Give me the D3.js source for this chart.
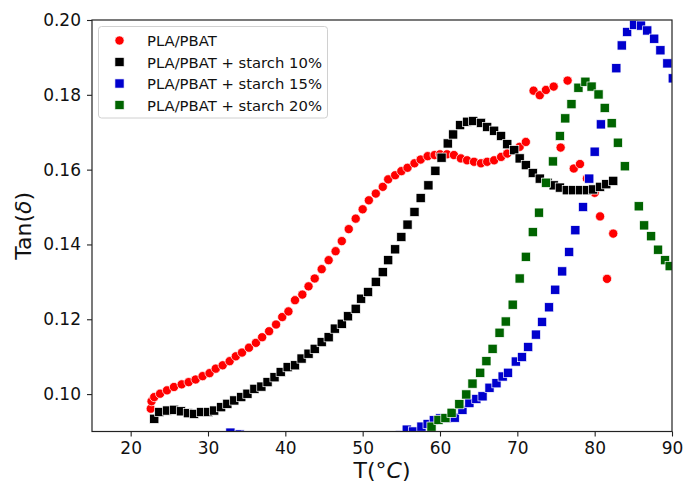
<!DOCTYPE html>
<html>
<head>
<meta charset="utf-8">
<script src="https://cdn.jsdelivr.net/npm/d3@7/dist/d3.min.js"></script>
<style>
  html, body { margin: 0; padding: 0; background: #fff; }
  svg { display: block; font-family: "DejaVu Sans", sans-serif; }
</style>
</head>
<body>
<svg id="chart" width="685" height="485"></svg>
<script>
// Loss factor tan(δ) vs temperature, [T (°C), tan δ]
const plaPbat = [
  [22.6,0.0961],[22.7,0.0981],[23.05,0.0992],[23.8,0.1001],[24.7,0.1010],[25.6,0.1019],
  [26.6,0.1026],[27.5,0.1032],[28.4,0.1039],[29.3,0.1048],[30.2,0.1056],[31.0,0.1068],
  [31.9,0.1077],[32.8,0.1088],[33.6,0.1101],[34.4,0.1111],[35.3,0.1124],[36.2,0.1137],
  [37.0,0.1152],[37.9,0.1168],[38.8,0.1186],[39.6,0.1206],[40.4,0.1221],[41.25,0.1251],
  [42.2,0.1266],[43.0,0.1288],[43.8,0.1309],[44.7,0.1334],[45.6,0.1358],[46.5,0.1382],
  [47.3,0.1409],[48.2,0.1441],[49.1,0.1469],[50.0,0.1494],[50.8,0.1518],[51.7,0.1536],
  [52.6,0.1554],[53.3,0.1574],[54.2,0.1585],[55.0,0.1596],[55.8,0.1605],[56.7,0.1617],
  [57.5,0.1627],[58.4,0.1636],[59.3,0.1639],[60.0,0.1641],[60.9,0.1641],[61.8,0.1639],
  [62.7,0.1630],[63.5,0.1625],[64.4,0.1621],[65.3,0.1617],[66.1,0.1621],[67.0,0.1625],
  [67.9,0.1634],[68.7,0.1643],[69.6,0.1652],[70.3,0.1661],[71.1,0.1674],[72.1,0.1811],
  [72.9,0.1799],[73.7,0.1813],[74.7,0.1822],[75.6,0.1659],[76.5,0.1838],[77.3,0.1603],
  [78.1,0.1615],[79.0,0.1576],[80.0,0.1538],[80.7,0.1475],[81.6,0.1308],[82.4,0.1429]
];
const starch10 = [
  [23.05,0.0934],[23.7,0.0952],[24.7,0.0956],[25.6,0.0958],[26.5,0.0954],[27.4,0.0949],
  [28.2,0.0947],[29.1,0.0952],[30.0,0.0952],[30.8,0.0956],[31.7,0.0965],[32.5,0.0974],
  [33.4,0.0983],[34.3,0.0992],[35.1,0.1001],[36.0,0.1014],[36.9,0.1020],[37.7,0.1032],
  [38.6,0.1045],[39.4,0.1059],[40.3,0.1072],[41.25,0.1077],[42.1,0.1095],[43.0,0.1108],
  [43.8,0.1121],[44.7,0.1139],[45.6,0.1152],[46.4,0.1175],[47.3,0.1188],[48.1,0.1208],
  [49.1,0.1228],[49.8,0.1255],[50.7,0.1273],[51.7,0.1300],[52.6,0.1326],[53.3,0.1358],
  [54.2,0.1387],[55.0,0.1420],[55.8,0.1453],[56.7,0.1487],[57.5,0.1524],[58.5,0.1558],
  [59.4,0.1597],[60.2,0.1632],[61.0,0.1670],[61.7,0.1694],[62.6,0.1719],[63.5,0.1728],
  [64.3,0.1730],[65.3,0.1725],[66.1,0.1714],[67.0,0.1704],[67.9,0.1690],[68.7,0.1668],
  [69.6,0.1652],[70.3,0.1630],[71.1,0.1612],[72.0,0.1591],[72.9,0.1576],[73.9,0.1565],
  [74.7,0.1558],[75.5,0.1552],[76.4,0.1545],[77.2,0.1545],[78.1,0.1545],[79.0,0.1545],
  [79.8,0.1547],[80.7,0.1554],[81.5,0.1561],[82.4,0.1570]
];
const starch15 = [
  [32.9,0.0897],[34.1,0.0892],[34.9,0.0889],
  [54.8,0.0890],[55.7,0.0905],[56.5,0.0900],[57.6,0.0913],[58.4,0.0920],[59.2,0.0930],
  [60.0,0.0935],[60.9,0.0935],[61.9,0.0937],[62.9,0.0958],[63.8,0.0976],[64.7,0.0987],
  [65.5,0.0994],[66.4,0.1017],[67.3,0.1029],[68.1,0.1047],[68.8,0.1057],[69.8,0.1087],
  [70.6,0.1099],[71.4,0.1126],[72.4,0.1159],[73.2,0.1193],[74.1,0.1232],[74.9,0.1279],
  [75.8,0.1328],[76.7,0.1380],[77.5,0.1438],[78.5,0.1500],[79.3,0.1576],[80.0,0.1648],
  [80.8,0.1721],[82.8,0.1871],[83.5,0.1932],[84.2,0.1968],[85.1,0.1987],[86.0,0.1985],
  [86.8,0.1972],[87.7,0.1950],[88.5,0.1919],[89.4,0.1884],[90.1,0.1844]
];
const starch20 = [
  [58.9,0.0913],[59.8,0.0931],[60.7,0.0936],[61.5,0.0950],[62.5,0.0973],[63.4,0.0999],
  [64.2,0.1028],[65.2,0.1057],[66.0,0.1088],[66.8,0.1121],[67.7,0.1164],[68.5,0.1194],
  [69.4,0.1239],[70.3,0.1309],[71.1,0.1367],[72.0,0.1433],[72.8,0.1485],[73.7,0.1565],
  [74.6,0.1622],[75.5,0.1690],[76.2,0.1737],[77.0,0.1775],[77.9,0.1819],[78.8,0.1835],
  [79.6,0.1822],[80.5,0.1801],[81.3,0.1765],[82.2,0.1724],[83.0,0.1672],[83.9,0.1609],
  [85.7,0.1502],[86.4,0.1451],[87.3,0.1422],[88.2,0.1386],[89.1,0.1358],[89.7,0.1342]
];

const seriesNames = ["PLA/PBAT", "PLA/PBAT + starch 10%", "PLA/PBAT + starch 15%", "PLA/PBAT + starch 20%"];
const seriesData = [plaPbat, starch10, starch15, starch20];
const seriesColors = ["#ff0000", "#000000", "#0000cd", "#006400"];
const seriesShapes = ["circle", "square", "square", "square"];

const xTicks = [20, 30, 40, 50, 60, 70, 80, 90];
const yTicks = [0.10, 0.12, 0.14, 0.16, 0.18, 0.20];
const xDomain = [15, 90];
const yDomain = [0.09, 0.20];

const svg = d3.select("#chart");
const plotLeft = 92, plotRight = 672, plotTop = 20, plotBottom = 431.5;

const x = d3.scaleLinear().domain(xDomain).range([plotLeft, plotRight]);
const y = d3.scaleLinear().domain(yDomain).range([plotBottom, plotTop]);

svg.append("defs").append("clipPath").attr("id", "plotClip")
  .append("rect").attr("x", plotLeft).attr("y", plotTop)
  .attr("width", plotRight - plotLeft).attr("height", plotBottom - plotTop);

const circleR = 4.6, squareS = 9.2;

function drawMarker(g, shape, color, cx, cy) {
  if (shape === "circle") {
    g.append("circle").attr("cx", cx).attr("cy", cy).attr("r", circleR)
      .attr("fill", color).attr("stroke", "#fff").attr("stroke-width", 0.7);
  } else {
    g.append("rect").attr("x", cx - squareS / 2).attr("y", cy - squareS / 2)
      .attr("width", squareS).attr("height", squareS)
      .attr("fill", color).attr("stroke", "#fff").attr("stroke-width", 0.7);
  }
}

// scatter marks
const plot = svg.append("g").attr("clip-path", "url(#plotClip)");
seriesData.forEach((data, i) => {
  const g = plot.append("g");
  if (seriesShapes[i] === "circle") {
    g.selectAll("circle").data(data).join("circle")
      .attr("cx", d => x(d[0])).attr("cy", d => y(d[1])).attr("r", circleR)
      .attr("fill", seriesColors[i]).attr("stroke", "#fff").attr("stroke-width", 0.7);
  } else {
    g.selectAll("rect").data(data).join("rect")
      .attr("x", d => x(d[0]) - squareS / 2).attr("y", d => y(d[1]) - squareS / 2)
      .attr("width", squareS).attr("height", squareS)
      .attr("fill", seriesColors[i]).attr("stroke", "#fff").attr("stroke-width", 0.7);
  }
});

// axes
const xAxis = svg.append("g").attr("transform", `translate(0,${plotBottom})`)
  .call(d3.axisBottom(x).tickValues(xTicks).tickFormat(d3.format("d")).tickSize(5).tickPadding(5));
const yAxis = svg.append("g").attr("transform", `translate(${plotLeft},0)`)
  .call(d3.axisLeft(y).tickValues(yTicks).tickFormat(d3.format(".2f")).tickSize(5).tickPadding(6));
[xAxis, yAxis].forEach(a => {
  a.select(".domain").remove();
  a.selectAll(".tick line").attr("stroke", "#222").attr("stroke-width", 1.1);
  a.selectAll(".tick text").attr("font-size", 17).attr("fill", "#111")
    .attr("font-family", "DejaVu Sans, sans-serif");
});

// frame
svg.append("rect").attr("x", plotLeft).attr("y", plotTop)
  .attr("width", plotRight - plotLeft).attr("height", plotBottom - plotTop)
  .attr("fill", "none").attr("stroke", "#222").attr("stroke-width", 1.2);

// axis titles
const xt = svg.append("text").attr("x", (plotLeft + plotRight) / 2).attr("y", 478)
  .attr("text-anchor", "middle").attr("font-size", 22).attr("fill", "#111");
xt.append("tspan").text("T(°");
xt.append("tspan").attr("font-style", "italic").text("C");
xt.append("tspan").text(")");

const yt = svg.append("text").attr("transform", `translate(31,${(plotTop + plotBottom) / 2}) rotate(-90)`)
  .attr("text-anchor", "middle").attr("font-size", 22).attr("fill", "#111");
yt.append("tspan").text("Tan(");
yt.append("tspan").attr("font-style", "italic").text("δ");
yt.append("tspan").text(")");

// legend
const lg = svg.append("g");
lg.append("rect").attr("x", 98.5).attr("y", 26.5).attr("width", 229).attr("height", 91.5)
  .attr("rx", 3).attr("fill", "#fff").attr("fill-opacity", 0.85)
  .attr("stroke", "#d0d0d0").attr("stroke-width", 1);
seriesNames.forEach((name, i) => {
  const ry = 40.5 + i * 21.5;
  drawMarker(lg, seriesShapes[i], seriesColors[i], 119.5, ry);
  lg.append("text").attr("x", 147).attr("y", ry + 5.5).attr("font-size", 14.8)
    .attr("fill", "#111").text(name);
});
</script>
</body>
</html>
